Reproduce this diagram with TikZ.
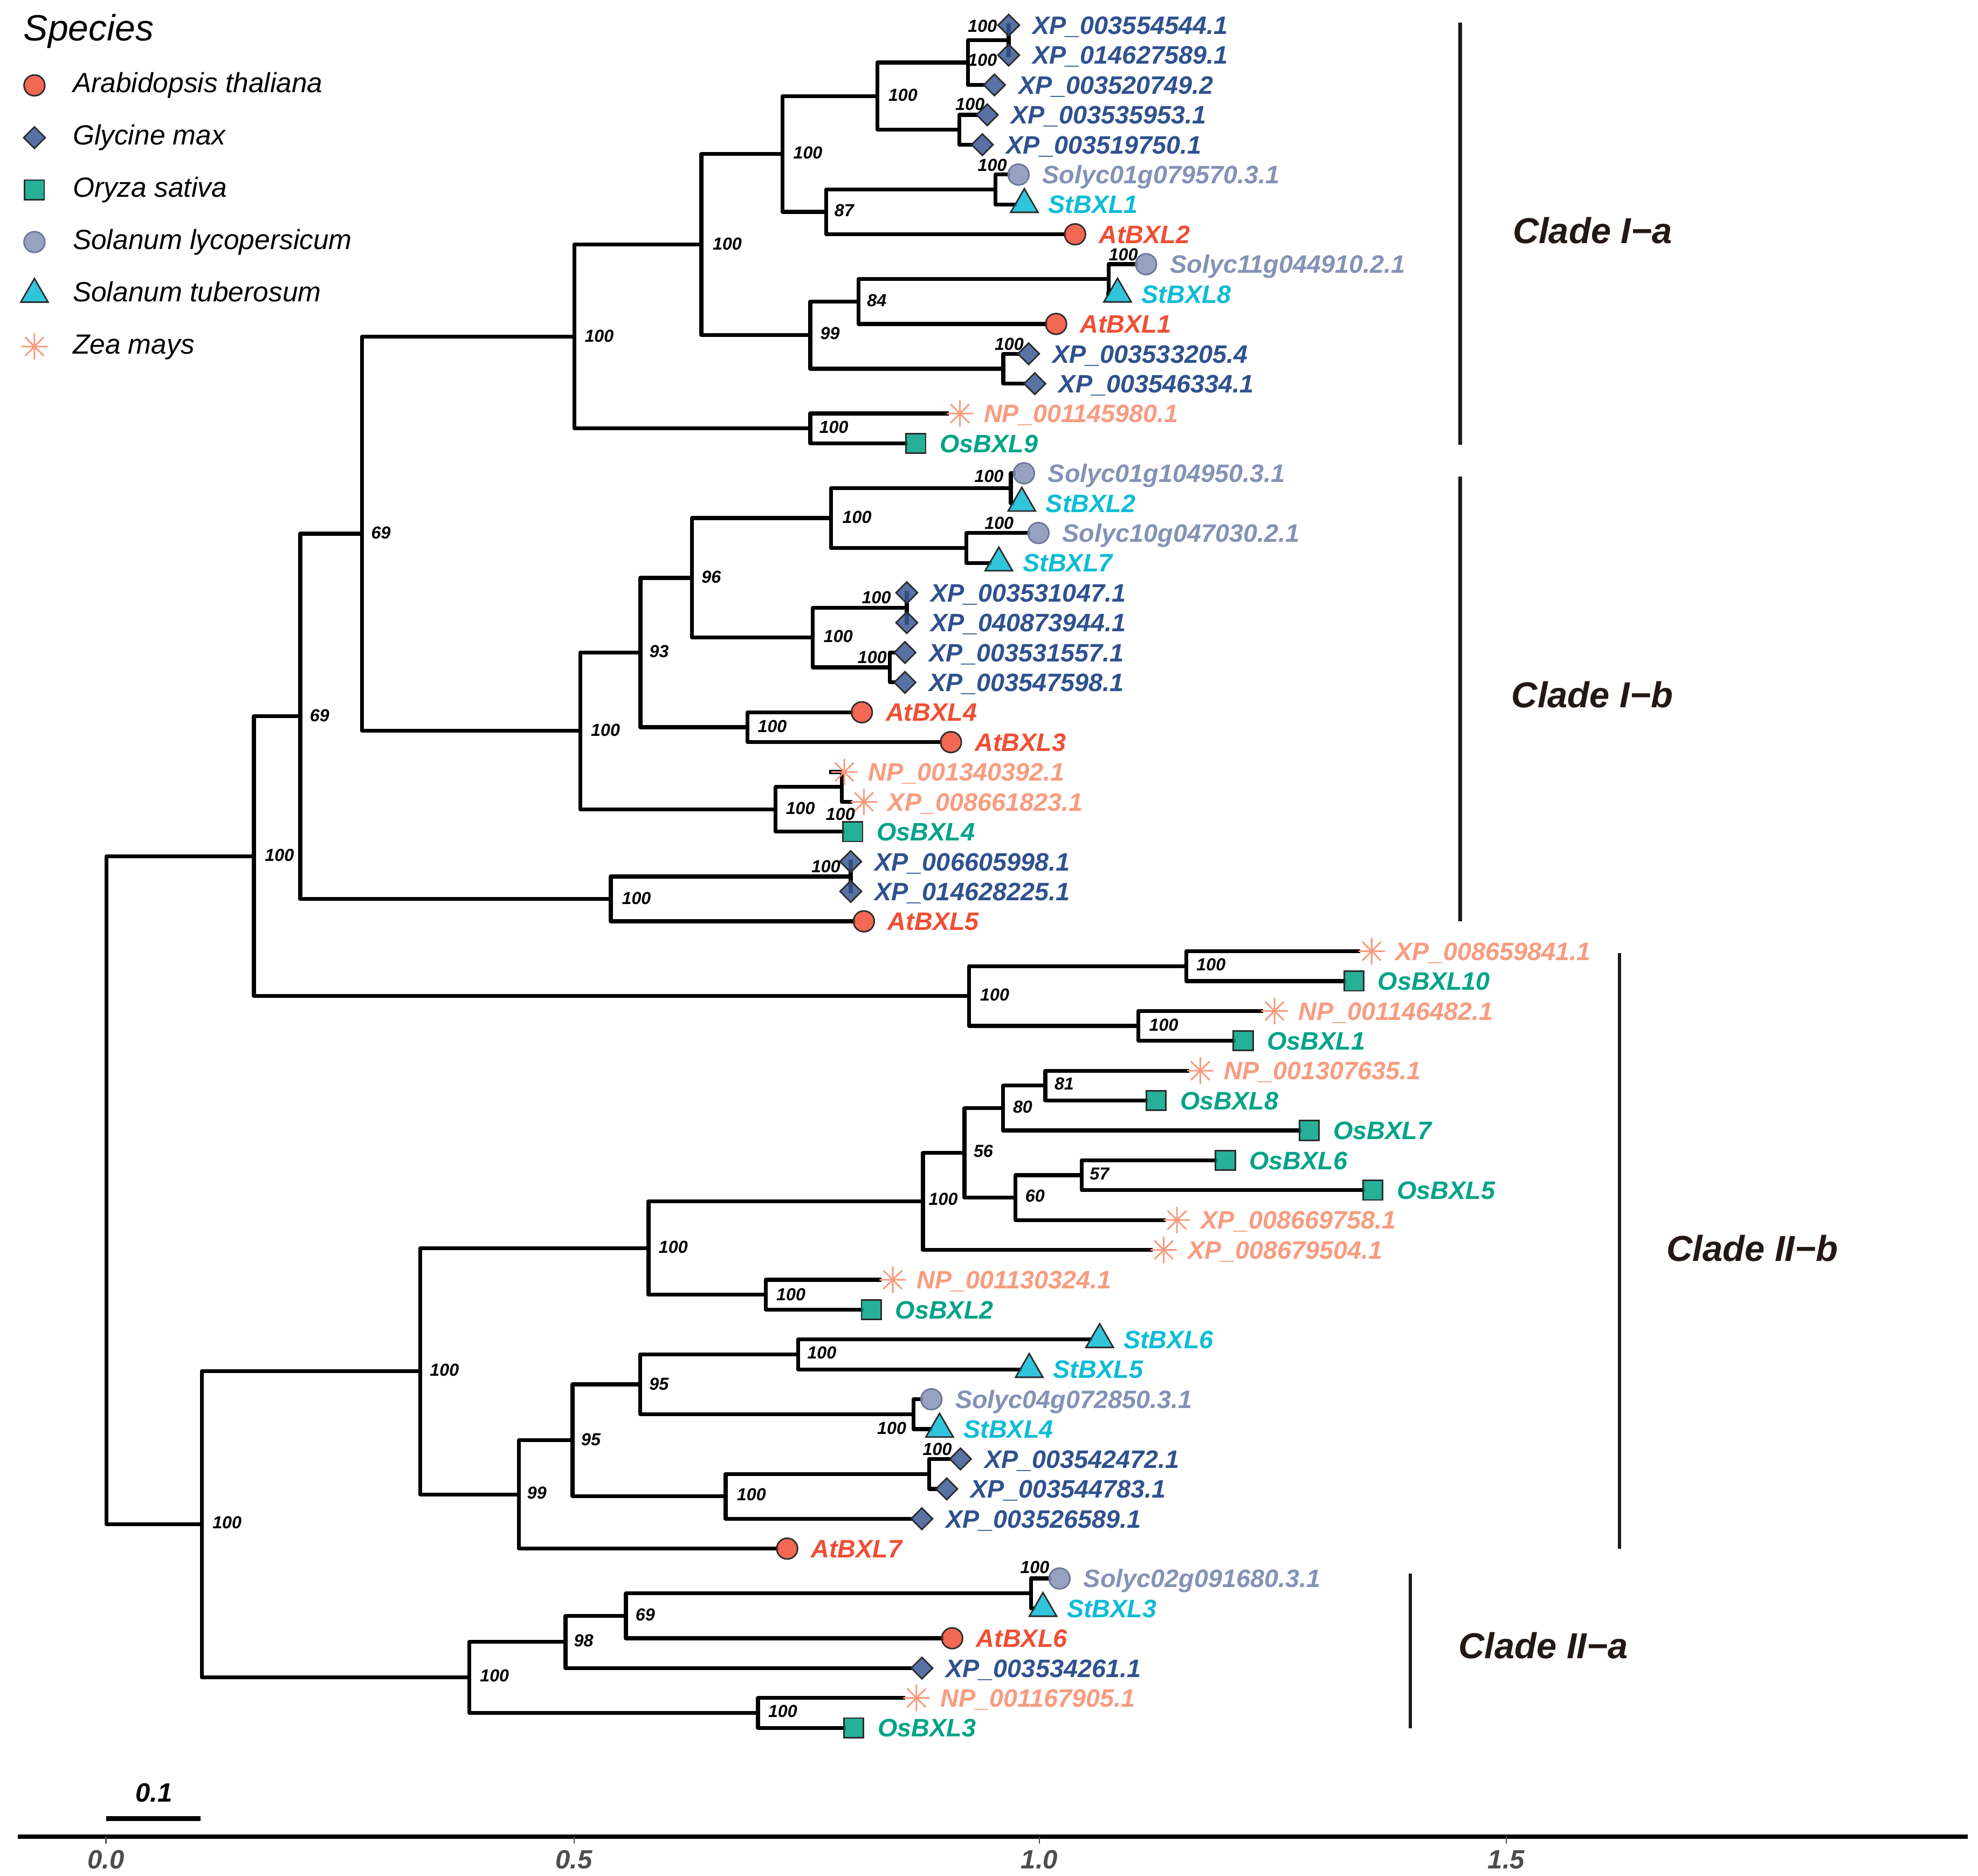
\documentclass[tikz,border=0pt]{standalone}
\usepackage{fontspec}
\setmainfont{Liberation Sans}
\usetikzlibrary{shapes.geometric}
\pgfdeclarelayer{background}
\pgfsetlayers{background,main}

\definecolor{cAt}{HTML}{F04E34}
\definecolor{cGm}{HTML}{2F518E}
\definecolor{cGmF}{HTML}{3C5A96}
\definecolor{cOs}{HTML}{00A387}
\definecolor{cSl}{HTML}{8492B6}
\definecolor{cSt}{HTML}{0DBCD6}
\definecolor{cZm}{HTML}{F89C80}
\definecolor{cEdge}{HTML}{2B2B2B}
\definecolor{cSlEdge}{HTML}{6B7798}
\definecolor{cClade}{HTML}{231815}
\definecolor{cBar}{HTML}{1A1A1A}
\definecolor{cAxis}{HTML}{4D4D4D}

\tikzset{
  br/.style={line width=3.1pt, line cap=rect, line join=round, black},
  sym/.style={inner sep=0pt, outer sep=0pt, draw=cEdge, line width=1.2pt, fill opacity=0.85},
  sAt/.style={sym, circle, minimum size=16.5pt, fill=cAt},
  sGm/.style={sym, diamond, minimum width=17pt, minimum height=17pt, fill=cGmF},
  sOs/.style={sym, rectangle, minimum size=15.5pt, fill=cOs},
  sSl/.style={sym, circle, minimum size=16.5pt, fill=cSl, draw=cSlEdge},
  sSt/.style={sym, regular polygon, regular polygon sides=3, minimum size=25pt, fill=cSt},
  sZm/.style={circle, inner sep=0pt, outer sep=0pt, minimum size=21pt},
  zmline/.style={cZm, line width=1.3pt},
  tl/.style={anchor=west, inner sep=0pt, outer sep=0pt, font=\fontsize{20}{22}\selectfont\bfseries\itshape, text height=14.3pt, text depth=0pt},
  bs/.style={inner sep=0pt, outer sep=0pt, font=\fontsize{13.8}{15}\selectfont\bfseries\itshape, text height=9.9pt, text depth=0pt},
  lgt/.style={anchor=base west, inner sep=0pt, font=\fontsize{22}{24}\selectfont\itshape},
  clab/.style={anchor=west, inner sep=0pt, text=cClade, font=\fontsize{28.6}{30}\selectfont\bfseries\itshape, text height=20.5pt, text depth=0pt},
  cbar/.style={line width=2.85pt, cBar},
  axl/.style={font=\fontsize{21}{23}\selectfont\bfseries\itshape, inner sep=0pt, text height=15pt, text depth=0pt},
}

\newcommand\mytip[6]{\node[#4] (#1) at (#2,#3) {};
  \node[tl, text=#5] (#1l) at ([xshift=19pt]#1.center) {#6};}
\newcommand\zstar[1]{\draw[zmline] (#1.north) -- (#1.south) (#1.west) -- (#1.east)
  (#1.north east) -- (#1.south west) (#1.north west) -- (#1.south east);}
\newcommand\bsl[4]{\node[bs] (#1) at (#2,#3) {#4};}
\newcommand\brr[2]{\draw[br] (#1) |- (#2);}

\begin{document}
\begin{tikzpicture}[x=1pt,y=-1pt]
\useasboundingbox (0,0) rectangle (1568,1487.2);

% ---------------- legend
\node[anchor=base west, inner sep=0pt, font=\fontsize{29}{31}\selectfont\itshape] (lgTitle) at (18.5,32.1) {Species};
\node[sAt] (lg1) at (27.3,67.7) {};
\node[lgt] (lg1t) at (57.5,73.5) {Arabidopsis thaliana};
\node[sGm] (lg2) at (27.3,109.1) {};
\node[lgt] (lg2t) at (57.5,114.9) {Glycine max};
\node[sOs] (lg3) at (27.3,150.5) {};
\node[lgt] (lg3t) at (57.5,156.3) {Oryza sativa};
\node[sSl] (lg4) at (27.3,191.9) {};
\node[lgt] (lg4t) at (57.5,197.7) {Solanum lycopersicum};
\node[sSt] (lg5) at (27.3,233.3) {};
\node[lgt] (lg5t) at (57.5,239.1) {Solanum tuberosum};
\node[sZm] (lg6) at (27.3,274.7) {};
\node[lgt] (lg6t) at (57.5,280.5) {Zea mays};
\zstar{lg6}

% ---------------- tips
\mytip{t1}{799.6}{20.00}{sGm}{cGm}{XP\_003554544.1}
\mytip{t2}{799.6}{43.68}{sGm}{cGm}{XP\_014627589.1}
\mytip{t3}{788.3}{67.36}{sGm}{cGm}{XP\_003520749.2}
\mytip{t4}{782.6}{91.04}{sGm}{cGm}{XP\_003535953.1}
\mytip{t5}{778.7}{114.72}{sGm}{cGm}{XP\_003519750.1}
\mytip{t6}{807.4}{138.40}{sSl}{cSl}{Solyc01g079570.3.1}
\mytip{t7}{812.0}{162.08}{sSt}{cSt}{StBXL1}
\mytip{t8}{852.2}{185.76}{sAt}{cAt}{AtBXL2}
\mytip{t9}{908.5}{209.44}{sSl}{cSl}{Solyc11g044910.2.1}
\mytip{t10}{885.9}{233.12}{sSt}{cSt}{StBXL8}
\mytip{t11}{837.2}{256.80}{sAt}{cAt}{AtBXL1}
\mytip{t12}{815.4}{280.48}{sGm}{cGm}{XP\_003533205.4}
\mytip{t13}{820.3}{304.16}{sGm}{cGm}{XP\_003546334.1}
\mytip{t14}{761.0}{327.84}{sZm}{cZm}{NP\_001145980.1}
\mytip{t15}{726.0}{351.52}{sOs}{cOs}{OsBXL9}
\mytip{t16}{811.7}{375.20}{sSl}{cSl}{Solyc01g104950.3.1}
\mytip{t17}{810.0}{398.88}{sSt}{cSt}{StBXL2}
\mytip{t18}{823.2}{422.56}{sSl}{cSl}{Solyc10g047030.2.1}
\mytip{t19}{791.8}{446.24}{sSt}{cSt}{StBXL7}
\mytip{t20}{718.8}{469.92}{sGm}{cGm}{XP\_003531047.1}
\mytip{t21}{718.8}{493.60}{sGm}{cGm}{XP\_040873944.1}
\mytip{t22}{717.4}{517.28}{sGm}{cGm}{XP\_003531557.1}
\mytip{t23}{717.4}{540.96}{sGm}{cGm}{XP\_003547598.1}
\mytip{t24}{683.2}{564.64}{sAt}{cAt}{AtBXL4}
\mytip{t25}{753.8}{588.32}{sAt}{cAt}{AtBXL3}
\mytip{t26}{669.3}{612.00}{sZm}{cZm}{NP\_001340392.1}
\mytip{t27}{684.8}{635.68}{sZm}{cZm}{XP\_008661823.1}
\mytip{t28}{676.0}{659.36}{sOs}{cOs}{OsBXL4}
\mytip{t29}{674.4}{683.04}{sGm}{cGm}{XP\_006605998.1}
\mytip{t30}{674.4}{706.72}{sGm}{cGm}{XP\_014628225.1}
\mytip{t31}{684.8}{730.40}{sAt}{cAt}{AtBXL5}
\mytip{t32}{1087.3}{754.08}{sZm}{cZm}{XP\_008659841.1}
\mytip{t33}{1073.3}{777.76}{sOs}{cOs}{OsBXL10}
\mytip{t34}{1010.3}{801.44}{sZm}{cZm}{NP\_001146482.1}
\mytip{t35}{985.5}{825.12}{sOs}{cOs}{OsBXL1}
\mytip{t36}{951.5}{848.80}{sZm}{cZm}{NP\_001307635.1}
\mytip{t37}{916.5}{872.48}{sOs}{cOs}{OsBXL8}
\mytip{t38}{1037.9}{896.16}{sOs}{cOs}{OsBXL7}
\mytip{t39}{971.4}{919.84}{sOs}{cOs}{OsBXL6}
\mytip{t40}{1088.3}{943.52}{sOs}{cOs}{OsBXL5}
\mytip{t41}{933.0}{967.20}{sZm}{cZm}{XP\_008669758.1}
\mytip{t42}{922.5}{990.88}{sZm}{cZm}{XP\_008679504.1}
\mytip{t43}{707.7}{1014.56}{sZm}{cZm}{NP\_001130324.1}
\mytip{t44}{690.7}{1038.24}{sOs}{cOs}{OsBXL2}
\mytip{t45}{871.7}{1061.92}{sSt}{cSt}{StBXL6}
\mytip{t46}{815.9}{1085.60}{sSt}{cSt}{StBXL5}
\mytip{t47}{738.3}{1109.28}{sSl}{cSl}{Solyc04g072850.3.1}
\mytip{t48}{744.8}{1132.96}{sSt}{cSt}{StBXL4}
\mytip{t49}{761.4}{1156.64}{sGm}{cGm}{XP\_003542472.1}
\mytip{t50}{750.5}{1180.32}{sGm}{cGm}{XP\_003544783.1}
\mytip{t51}{730.8}{1204.00}{sGm}{cGm}{XP\_003526589.1}
\mytip{t52}{624.0}{1227.68}{sAt}{cAt}{AtBXL7}
\mytip{t53}{839.9}{1251.36}{sSl}{cSl}{Solyc02g091680.3.1}
\mytip{t54}{826.8}{1275.04}{sSt}{cSt}{StBXL3}
\mytip{t55}{754.8}{1298.72}{sAt}{cAt}{AtBXL6}
\mytip{t56}{730.8}{1322.40}{sGm}{cGm}{XP\_003534261.1}
\mytip{t57}{726.5}{1346.08}{sZm}{cZm}{NP\_001167905.1}
\mytip{t58}{676.8}{1369.76}{sOs}{cOs}{OsBXL3}

\zstar{t14}\zstar{t26}\zstar{t27}\zstar{t32}\zstar{t34}
\zstar{t36}\zstar{t41}\zstar{t42}\zstar{t43}\zstar{t57}

% ---------------- internal nodes
\coordinate (nA) at (799.6,31.84);
\coordinate (nB) at (767.3,49.60);
\coordinate (nD) at (760.5,102.88);
\coordinate (nC) at (695.6,76.24);
\coordinate (nE) at (789.0,150.24);
\coordinate (nF) at (654.9,168.00);
\coordinate (nG) at (620.4,122.12);
\coordinate (nJ) at (878.8,221.28);
\coordinate (nK) at (680.5,239.04);
\coordinate (nL) at (795.3,292.32);
\coordinate (nI) at (642.3,265.68);
\coordinate (nH) at (556.0,193.90);
\coordinate (nM) at (642.3,339.68);
\coordinate (nN) at (455.3,266.79);
\coordinate (nW) at (801.3,387.04);
\coordinate (nX) at (766.0,434.40);
\coordinate (nY) at (658.7,410.72);
\coordinate (nZa) at (718.8,481.76);
\coordinate (nZb) at (705.5,529.12);
\coordinate (nZ) at (644.3,505.44);
\coordinate (nR) at (548.5,458.08);
\coordinate (nAA) at (592.6,576.48);
\coordinate (nQ) at (507.7,517.28);
\coordinate (nAB) at (667.2,623.84);
\coordinate (nAC) at (614.9,641.60);
\coordinate (nP) at (460.1,579.44);
\coordinate (nO) at (287.0,423.12);
\coordinate (nAD) at (674.4,694.88);
\coordinate (nV) at (484.2,712.64);
\coordinate (nS) at (238.0,567.88);
\coordinate (nAF) at (940.5,765.92);
\coordinate (nAG) at (902.4,813.28);
\coordinate (nAE) at (768.1,789.60);
\coordinate (nT) at (201.3,678.74);
\coordinate (nAH) at (828.6,860.64);
\coordinate (nAI) at (795.1,878.40);
\coordinate (nAJ) at (857.4,931.68);
\coordinate (nAK) at (805.0,949.44);
\coordinate (nAL) at (764.5,913.92);
\coordinate (nAM) at (731.6,952.40);
\coordinate (nAO) at (607.0,1026.40);
\coordinate (nAN) at (514.1,989.40);
\coordinate (nAQ) at (632.7,1073.76);
\coordinate (nAR) at (724.3,1121.12);
\coordinate (nAS) at (507.6,1097.44);
\coordinate (nAT) at (736.5,1168.48);
\coordinate (nAU) at (575.2,1186.24);
\coordinate (nAV) at (453.9,1141.84);
\coordinate (nAW) at (411.2,1184.76);
\coordinate (nAP) at (333.2,1087.08);
\coordinate (nAY) at (817.2,1263.20);
\coordinate (nAZ) at (496.2,1280.96);
\coordinate (nBA) at (448.3,1301.68);
\coordinate (nBC) at (600.9,1357.92);
\coordinate (nBB) at (372.0,1329.80);
\coordinate (nAX) at (160.0,1208.44);
\coordinate (nU) at (84.5,943.59);

% ---------------- support values
\bsl{b1}{778.8}{20.5}{100}
\bsl{b2}{778.8}{47.5}{100}
\bsl{b3}{715.8}{75.2}{100}
\bsl{b4}{769.0}{82.6}{100}
\bsl{b5}{786.6}{130.8}{100}
\bsl{b6}{669.2}{166.8}{87}
\bsl{b7}{640.4}{121.0}{100}
\bsl{b8}{576.5}{193.0}{100}
\bsl{b9}{890.5}{201.6}{100}
\bsl{b10}{695.0}{237.9}{84}
\bsl{b11}{658.0}{264.2}{99}
\bsl{b12}{800.0}{272.8}{100}
\bsl{b13}{475.0}{266.0}{100}
\bsl{b14}{661.0}{338.3}{100}
\bsl{b15}{784.0}{377.5}{100}
\bsl{b16}{792.0}{414.3}{100}
\bsl{b17}{679.3}{409.8}{100}
\bsl{b18}{563.8}{457.2}{96}
\bsl{b19}{694.7}{473.6}{100}
\bsl{b20}{664.5}{504.3}{100}
\bsl{b21}{691.4}{521.0}{100}
\bsl{b22}{522.5}{516.2}{93}
\bsl{b23}{612.2}{575.5}{100}
\bsl{b24}{480.0}{578.5}{100}
\bsl{b25}{634.5}{640.5}{100}
\bsl{b26}{666.2}{645.3}{100}
\bsl{b27}{654.7}{686.6}{100}
\bsl{b28}{504.5}{712.0}{100}
\bsl{b29}{302.0}{422.0}{69}
\bsl{b30}{253.4}{567.0}{69}
\bsl{b31}{221.5}{677.6}{100}
\bsl{b32}{960.0}{764.6}{100}
\bsl{b33}{788.5}{788.5}{100}
\bsl{b34}{922.5}{812.3}{100}
\bsl{b35}{843.6}{859.1}{81}
\bsl{b36}{810.7}{877.2}{80}
\bsl{b37}{779.5}{912.5}{56}
\bsl{b38}{871.5}{930.3}{57}
\bsl{b39}{820.5}{947.8}{60}
\bsl{b40}{747.7}{950.6}{100}
\bsl{b41}{533.7}{988.6}{100}
\bsl{b42}{627.0}{1025.9}{100}
\bsl{b43}{651.5}{1072.2}{100}
\bsl{b44}{522.4}{1096.8}{95}
\bsl{b45}{706.9}{1132.2}{100}
\bsl{b46}{743.0}{1148.6}{100}
\bsl{b47}{468.4}{1141.2}{95}
\bsl{b48}{425.6}{1183.2}{99}
\bsl{b49}{595.7}{1184.8}{100}
\bsl{b50}{352.3}{1085.9}{100}
\bsl{b51}{820.3}{1242.2}{100}
\bsl{b52}{511.5}{1279.9}{69}
\bsl{b53}{462.7}{1300.3}{98}
\bsl{b54}{392.0}{1328.3}{100}
\bsl{b55}{620.5}{1356.4}{100}
\bsl{b56}{180.0}{1207.0}{100}

% ---------------- clades
\coordinate (cIa1) at (1157.5,18); \coordinate (cIa2) at (1157.5,352.6);
\coordinate (cIb1) at (1157.5,377.8); \coordinate (cIb2) at (1157.5,730.5);
\coordinate (cIIb1) at (1283.8,755.6); \coordinate (cIIb2) at (1283.8,1228);
\coordinate (cIIa1) at (1118,1247.6); \coordinate (cIIa2) at (1118,1370);
\draw[cbar] (cIa1) -- (cIa2);
\draw[cbar] (cIb1) -- (cIb2);
\draw[cbar] (cIIb1) -- (cIIb2);
\draw[cbar] (cIIa1) -- (cIIa2);
\node[clab] (kIa) at (1199,182.7) {Clade I−a};
\node[clab] (kIb) at (1198,550.5) {Clade I−b};
\node[clab] (kIIb) at (1321,989.6) {Clade II−b};
\node[clab] (kIIa) at (1156,1304.5) {Clade II−a};

% ---------------- axis and scale bar
\coordinate (ax0) at (14,1456); \coordinate (ax1) at (1560,1456);
\draw[line width=3.8pt] (ax0) -- (ax1);
\coordinate (tk0) at (84,1456); \coordinate (tk1) at (455,1456);
\coordinate (tk2) at (824,1456); \coordinate (tk3) at (1194,1456);
\foreach \t in {tk0,tk1,tk2,tk3} {\draw[cAxis, line width=1pt] (\t) -- ++(0,5.5);}
\node[axl, text=cAxis] (tl0) at (84,1474) {0.0};
\node[axl, text=cAxis] (tl1) at (455,1474) {0.5};
\node[axl, text=cAxis] (tl2) at (824,1474) {1.0};
\node[axl, text=cAxis] (tl3) at (1194,1474) {1.5};
\coordinate (sb0) at (84,1441.7); \coordinate (sb1) at (159,1441.7);
\draw[line width=3.5pt] (sb0) -- (sb1);
\node[axl] (sbl) at (122,1421) {0.1};

% ---------------- branches (behind symbols)
\begin{pgfonlayer}{background}
\fill[white] (0,0) rectangle (1568,1487.2);
\brr{nA}{t1}\brr{nA}{t2}
\brr{nB}{nA}\brr{nB}{t3}
\brr{nD}{t4}\brr{nD}{t5}
\brr{nC}{nB}\brr{nC}{nD}
\brr{nE}{t6}\brr{nE}{t7}
\brr{nF}{nE}\brr{nF}{t8}
\brr{nG}{nC}\brr{nG}{nF}
\brr{nJ}{t9}\brr{nJ}{t10}
\brr{nK}{nJ}\brr{nK}{t11}
\brr{nL}{t12}\brr{nL}{t13}
\brr{nI}{nK}\brr{nI}{nL}
\brr{nH}{nG}\brr{nH}{nI}
\brr{nM}{t14.west}\brr{nM}{t15}
\brr{nN}{nH}\brr{nN}{nM}
\brr{nW}{t16}\brr{nW}{t17}
\brr{nX}{t18}\brr{nX}{t19}
\brr{nY}{nW}\brr{nY}{nX}
\brr{nZa}{t20}\brr{nZa}{t21}
\brr{nZb}{t22}\brr{nZb}{t23}
\brr{nZ}{nZa}\brr{nZ}{nZb}
\brr{nR}{nY}\brr{nR}{nZ}
\brr{nAA}{t24}\brr{nAA}{t25}
\brr{nQ}{nR}\brr{nQ}{nAA}
\brr{nAB}{t26}\brr{nAB}{t27.west}
\brr{nAC}{nAB}\brr{nAC}{t28}
\brr{nP}{nQ}\brr{nP}{nAC}
\brr{nO}{nN}\brr{nO}{nP}
\brr{nAD}{t29}\brr{nAD}{t30}
\brr{nV}{nAD}\brr{nV}{t31}
\brr{nS}{nO}\brr{nS}{nV}
\brr{nAF}{t32.west}\brr{nAF}{t33}
\brr{nAG}{t34.west}\brr{nAG}{t35}
\brr{nAE}{nAF}\brr{nAE}{nAG}
\brr{nT}{nS}\brr{nT}{nAE}
\brr{nAH}{t36.west}\brr{nAH}{t37}
\brr{nAI}{nAH}\brr{nAI}{t38}
\brr{nAJ}{t39}\brr{nAJ}{t40}
\brr{nAK}{nAJ}\brr{nAK}{t41.west}
\brr{nAL}{nAI}\brr{nAL}{nAK}
\brr{nAM}{nAL}\brr{nAM}{t42.west}
\brr{nAO}{t43.west}\brr{nAO}{t44}
\brr{nAN}{nAM}\brr{nAN}{nAO}
\brr{nAQ}{t45}\brr{nAQ}{t46}
\brr{nAR}{t47}\brr{nAR}{t48}
\brr{nAS}{nAQ}\brr{nAS}{nAR}
\brr{nAT}{t49}\brr{nAT}{t50}
\brr{nAU}{nAT}\brr{nAU}{t51}
\brr{nAV}{nAS}\brr{nAV}{nAU}
\brr{nAW}{nAV}\brr{nAW}{t52}
\brr{nAP}{nAN}\brr{nAP}{nAW}
\brr{nAY}{t53}\brr{nAY}{t54}
\brr{nAZ}{nAY}\brr{nAZ}{t55}
\brr{nBA}{nAZ}\brr{nBA}{t56}
\brr{nBC}{t57.west}\brr{nBC}{t58}
\brr{nBB}{nBA}\brr{nBB}{nBC}
\brr{nAX}{nAP}\brr{nAX}{nBB}
\brr{nU}{nT}\brr{nU}{nAX}
\end{pgfonlayer}
\end{tikzpicture}
\end{document}
